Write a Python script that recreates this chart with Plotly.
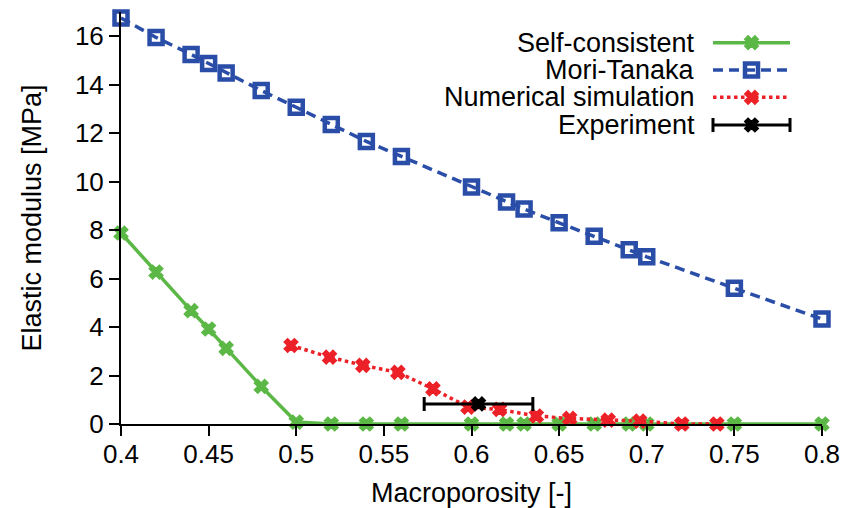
import plotly.graph_objects as go

# ---------------- data ----------------
x_sc = [0.40, 0.42, 0.44, 0.45, 0.46, 0.48, 0.50, 0.52, 0.54, 0.56, 0.60, 0.62, 0.63,
        0.65, 0.67, 0.69, 0.70, 0.75, 0.80]
y_sc = [7.88, 6.27, 4.68, 3.92, 3.12, 1.55, 0.08, 0.0, 0.0, 0.0, 0.0, 0.0, 0.0,
        0.0, 0.0, 0.0, 0.0, 0.0, 0.0]

x_mt = [0.40, 0.42, 0.44, 0.45, 0.46, 0.48, 0.50, 0.52, 0.54, 0.56, 0.60, 0.62, 0.63,
        0.65, 0.67, 0.69, 0.70, 0.75, 0.80]
y_mt = [16.75, 15.95, 15.25, 14.88, 14.48, 13.76, 13.07, 12.36, 11.66, 11.04, 9.78, 9.16, 8.87,
        8.30, 7.75, 7.19, 6.90, 5.60, 4.33]

x_num = [0.497, 0.519, 0.538, 0.558, 0.578, 0.598, 0.616, 0.637, 0.656, 0.678, 0.696, 0.720, 0.740]
y_num = [3.24, 2.76, 2.42, 2.13, 1.45, 0.70, 0.60, 0.33, 0.23, 0.16, 0.12, 0.0, 0.0]

x_exp = [0.604]
y_exp = [0.83]
xerr_exp = [0.031]

series_names = ["Self-consistent", "Mori-Tanaka", "Numerical simulation", "Experiment"]
x_ticks = [0.4, 0.45, 0.5, 0.55, 0.6, 0.65, 0.7, 0.75, 0.8]
x_tick_labels = ["0.4", "0.45", "0.5", "0.55", "0.6", "0.65", "0.7", "0.75", "0.8"]
y_ticks = [0, 2, 4, 6, 8, 10, 12, 14, 16]

# ---------------- styles ----------------
FONT = "Liberation Sans, Arial, sans-serif"
GREEN = "#5cb846"
BLUE = "#2a4ea8"
RED = "#ec2128"
BLACK = "#000000"

W, H = 845, 508
ML, MR, MT, MB = 121, 23, 12, 84

styles = [
    dict(line=dict(color=GREEN, width=3.5, dash="solid"),
         marker=dict(symbol="x", size=12, color=GREEN, line=dict(width=1.5, color=GREEN))),
    dict(line=dict(color=BLUE, width=3.5, dash="10px,6px"),
         marker=dict(symbol="square-open", size=13, color=BLUE, line=dict(width=4.5, color=BLUE))),
    dict(line=dict(color=RED, width=3.5, dash="3.5px,3.5px"),
         marker=dict(symbol="x", size=12, color=RED, line=dict(width=1.5, color=RED))),
    dict(line=dict(color=BLACK, width=3, dash="solid"),
         marker=dict(symbol="x", size=12, color=BLACK, line=dict(width=1.5, color=BLACK))),
]

fig = go.Figure()

fig.add_trace(go.Scatter(x=x_sc, y=y_sc, mode="lines+markers", name=series_names[0],
                         line=styles[0]["line"], marker=styles[0]["marker"], cliponaxis=False))
fig.add_trace(go.Scatter(x=x_mt, y=y_mt, mode="lines+markers", name=series_names[1],
                         line=styles[1]["line"], marker=styles[1]["marker"], cliponaxis=False))
fig.add_trace(go.Scatter(x=x_num, y=y_num, mode="lines+markers", name=series_names[2],
                         line=styles[2]["line"], marker=styles[2]["marker"], cliponaxis=False))
fig.add_trace(go.Scatter(x=x_exp, y=y_exp, mode="markers", name=series_names[3],
                         marker=styles[3]["marker"], cliponaxis=False,
                         error_x=dict(type="data", array=xerr_exp, symmetric=True,
                                      color=BLACK, thickness=3, width=7)))

# ---------------- custom legend (key to the right of right-aligned text) ----------------
# overlay axes whose units are screen pixels of the plotting area
leg_text_right = 697
leg_key_x0, leg_key_x1 = 713, 790
leg_rows = [42.7, 70.0, 97.3, 125.0]
key_mid = (leg_key_x0 + leg_key_x1) / 2

for i, name in enumerate(series_names):
    py = leg_rows[i]
    st = styles[i]
    if i < 3:
        fig.add_trace(go.Scatter(x=[leg_key_x0, leg_key_x1], y=[py, py],
                                 xaxis="x2", yaxis="y2", mode="lines", line=st["line"],
                                 showlegend=False, hoverinfo="skip", cliponaxis=False))
        fig.add_trace(go.Scatter(x=[key_mid], y=[py],
                                 xaxis="x2", yaxis="y2", mode="markers", marker=st["marker"],
                                 showlegend=False, hoverinfo="skip", cliponaxis=False))
    else:
        fig.add_trace(go.Scatter(x=[key_mid], y=[py], xaxis="x2", yaxis="y2", mode="markers",
                                 marker=st["marker"],
                                 error_x=dict(type="constant", value=(leg_key_x1 - leg_key_x0) / 2,
                                              color=BLACK, thickness=3, width=7),
                                 showlegend=False, hoverinfo="skip", cliponaxis=False))
    fig.add_annotation(x=leg_text_right, y=py, xref="x2", yref="y2", text=name,
                       showarrow=False, xanchor="right", yanchor="middle",
                       font=dict(family=FONT, size=27, color="black"))

axis_common = dict(showline=True, linecolor="black", linewidth=2, ticks="outside",
                   ticklen=10, tickwidth=2, tickcolor="black", showgrid=False, zeroline=False,
                   mirror=False, automargin=False,
                   tickfont=dict(family=FONT, size=26, color="black"))

fig.update_layout(
    width=W, height=H,
    margin=dict(l=ML, r=MR, t=MT, b=MB, autoexpand=False),
    paper_bgcolor="white", plot_bgcolor="white",
    showlegend=False,
    xaxis=dict(axis_common, range=[0.4, 0.8], tickvals=x_ticks, ticktext=x_tick_labels,
               ticklabelstandoff=-4,
               title=dict(text="Macroporosity [-]", font=dict(family=FONT, size=27, color="black"),
                          standoff=16)),
    yaxis=dict(axis_common, range=[0, 17], tickvals=y_ticks,
               title=dict(text="Elastic modulus [MPa]", font=dict(family=FONT, size=27, color="black"),
                          standoff=25)),
    xaxis2=dict(overlaying="x", range=[ML, W - MR], visible=False, showgrid=False,
                zeroline=False, automargin=False),
    yaxis2=dict(overlaying="y", range=[H - MB, MT], visible=False, showgrid=False,
                zeroline=False, automargin=False),
)

fig.write_html("out.html", config={"displayModeBar": False},
               post_script="document.body.style.margin='0px';")
